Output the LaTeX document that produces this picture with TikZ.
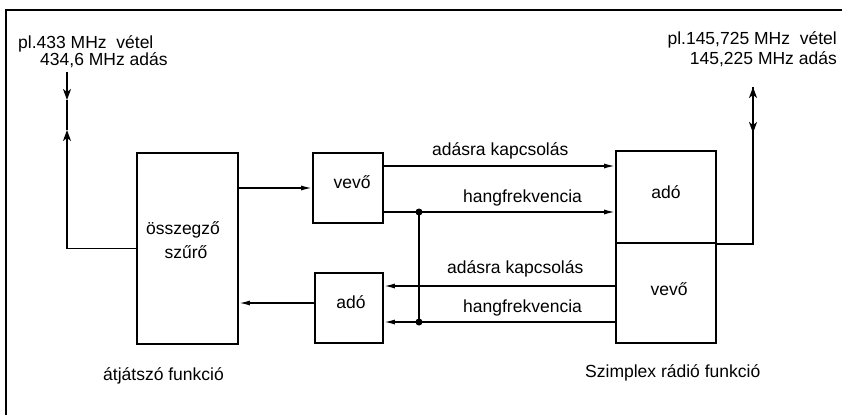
\documentclass[tikz,border=0pt]{standalone}
\usepackage{fontspec}
\setmainfont{Liberation Sans}
\usetikzlibrary{arrows.meta}
\begin{document}
\begin{tikzpicture}[x=1pt,y=-1pt,
  box/.style={draw, line width=1.8pt, inner sep=0pt},
  lbl/.style={font=\fontsize{17.5}{20}\selectfont, inner sep=0pt},
  conn/.style={line width=1.5pt},
  arr/.style={conn, -{Latex[length=11pt,width=5pt]}},
  ant/.style={conn, -{Stealth[length=11pt,width=8pt,inset=3pt]}},
  jdot/.style={circle, fill, inner sep=0pt, minimum size=7pt},
  frame/.style={line width=1.3pt}]
\useasboundingbox (0,0) rectangle (842,415);
% frame
\coordinate (fbl) at (6,415);
\coordinate (ftl) at (6,10);
\coordinate (ftr) at (842,10);
\draw[frame] (fbl) -- (ftl) -- (ftr);

% boxes
\node[box, minimum width=101pt, minimum height=191pt] (filt) at (187.5,248.5) {};
\node[box, minimum width=70pt, minimum height=70pt] (vevo) at (348,188) {};
\node[box, minimum width=68pt, minimum height=70pt] (ado) at (349,308) {};
\node[box, minimum width=100pt, minimum height=92pt] (rado) at (666,197) {};
\node[box, minimum width=100pt, minimum height=100pt] (rvevo) at (666,293) {};

% box texts
\node[lbl, anchor=base] (tfilt1) at (183,234) {összegző};
\node[lbl, anchor=base] (tfilt2) at (186,258) {szűrő};
\node[lbl, anchor=base] (tvevo) at (352,188) {vevő};
\node[lbl, anchor=base] (tado) at (351,308) {adó};
\node[lbl, anchor=base] (trado) at (666,198) {adó};
\node[lbl, anchor=base] (trvevo) at (669,295) {vevő};

% antenna texts
\node[lbl, anchor=base west] (tl1) at (18,48) {pl.433 MHz\ \ vétel};
\node[lbl, anchor=base west] (tl2) at (40,65) {434,6 MHz adás};
\node[lbl, anchor=base east] (tr1) at (837,44) {pl.145,725 MHz\ \ vétel};
\node[lbl, anchor=base east] (tr2) at (837,64) {145,225 MHz adás};

% line labels
\node[lbl, anchor=base west] (ta1) at (432,155) {adásra kapcsolás};
\node[lbl, anchor=base west] (th1) at (463,202) {hangfrekvencia};
\node[lbl, anchor=base west] (ta2) at (447,273) {adásra kapcsolás};
\node[lbl, anchor=base west] (th2) at (463,312) {hangfrekvencia};

% captions
\node[lbl, anchor=base west] (cap1) at (103,380) {átjátszó funkció};
\node[lbl, anchor=base west] (cap2) at (585,377) {Szimplex rádió funkció};

% left antenna
\coordinate (antL) at (67,72);
\coordinate (aL1) at (67,100);
\coordinate (aL2) at (67,130);
\draw[ant] (antL) -- (aL1);
\draw[conn] (aL1) -- (aL2);
\draw[ant] (filt.west) -| (aL2);

% right antenna
\coordinate (antR) at (753,87);
\coordinate (aR2) at (753,133);
\draw[ant] (rado.south east) -| (antR);
\draw[ant] (antR) -- (aR2);

% filter <-> vevo / ado
\draw[arr] (filt.east |- vevo.west) -- (vevo.west);
\draw[arr] ([yshift=5pt]ado.west) -- ([yshift=5pt]ado.west -| filt.east);

% signal lines
\coordinate (l1) at (0,166);
\coordinate (l2) at (0,212);
\coordinate (l3) at (0,286);
\coordinate (l4) at (0,322);
\draw[arr] (vevo.east |- l1) -- (rado.west |- l1);
\draw[arr] (vevo.east |- l2) -- (rado.west |- l2);
\draw[arr] (rvevo.west |- l3) -- (ado.east |- l3);
\draw[arr] (rvevo.west |- l4) -- (ado.east |- l4);

% junction
\coordinate (j1) at (419,212);
\coordinate (j2) at (419,322);
\draw[conn] (j1) -- (j2);
\node[jdot] (d1) at (j1) {};
\node[jdot] (d2) at (j2) {};
\end{tikzpicture}
\end{document}
